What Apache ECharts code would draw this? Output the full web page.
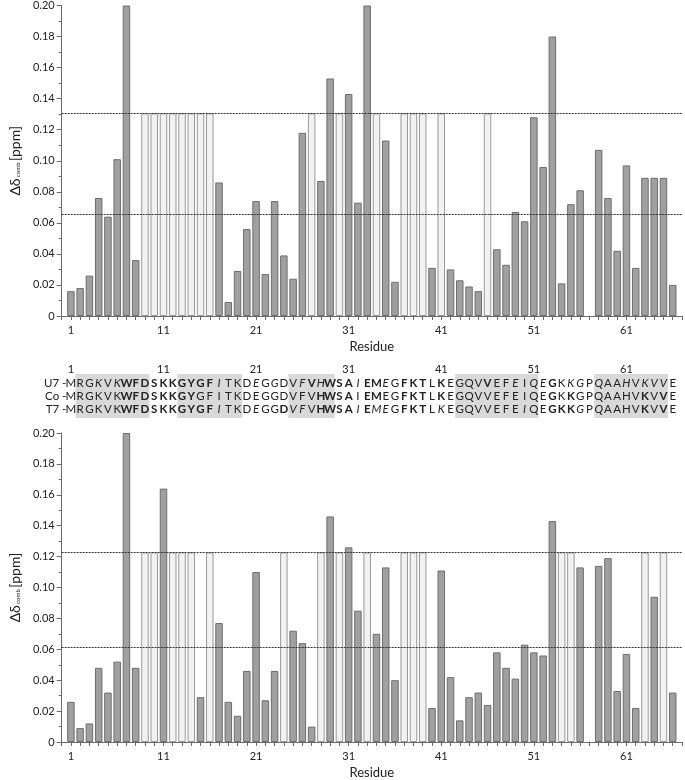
<!DOCTYPE html>
<html><head><meta charset="utf-8">
<script src="https://cdn.jsdelivr.net/npm/echarts@6/dist/echarts.min.js"></script>
<style>html,body{margin:0;padding:0;background:#fff}#c{width:685px;height:780px}</style>
</head><body><div id="c"></div>
<script>
// residue numbers on the category axis (0 and 67 are empty padding positions)
const residueNumbers = [0,1,2,3,4,5,6,7,8,9,10,11,12,13,14,15,16,17,18,19,20,21,22,23,24,25,26,27,28,29,30,31,32,33,34,35,36,37,38,39,40,41,42,43,44,45,46,47,48,49,50,51,52,53,54,55,56,57,58,59,60,61,62,63,64,65,66,67];
const tickLabelResidues = [1,11,21,31,41,51,61];

// top panel (U7): combined chemical shift per residue 1..66 (null = no dark bar)
const topShift = [
  0.016,0.018,0.026,0.076,0.064,0.101,0.200,0.036,null,null,
  null,null,null,null,null,null,0.086,0.009,0.029,0.056,
  0.074,0.027,0.074,0.039,0.024,0.118,null,0.087,0.153,null,
  0.143,0.073,0.200,null,0.113,0.022,null,null,null,0.031,
  null,0.030,0.023,0.019,0.016,null,0.043,0.033,0.067,0.061,
  0.128,0.096,0.180,0.021,0.072,0.081,null,0.107,0.076,0.042,
  0.097,0.031,0.089,0.089,0.089,0.020];
const topUnassigned = [9,10,11,12,13,14,15,16,27,30,34,37,38,39,41,46];
const topCutoffs = [0.1305, 0.0653];

// bottom panel (T7)
const bottomShift = [
  0.026,0.009,0.012,0.048,0.032,0.052,0.200,0.048,null,null,
  0.164,null,null,null,0.029,null,0.077,0.026,0.017,0.046,
  0.110,0.027,0.046,null,0.072,0.064,0.010,null,0.146,null,
  0.126,0.085,null,0.070,0.113,0.040,null,null,null,0.022,
  0.111,0.042,0.014,0.029,0.032,0.024,0.058,0.048,0.041,0.063,
  0.058,0.056,0.143,null,null,0.113,null,0.114,0.119,0.033,
  0.057,0.022,null,0.094,null,0.032];
const bottomUnassigned = [9,10,12,13,14,16,24,28,30,33,37,38,39,54,55,63,65];
const bottomCutoffs = [0.1227, 0.0614];

// sequence alignment
const sequence = 'MRGKVKWFDSKKGYGFITKDEGGDVFVHWSAIEMEGFKTLKEGQVVEFEIQEGKKGPQAAHVKVVE';
const rowNames = ['U7','Co','T7'];
// n = normal, b = bold, i = italic (one code per residue, in blocks of 10)
const rowStyles = [
  'nnninibbbb'+'bbbbbbinnn'+'ininnibibb'+'bibbinbbbn'+'bnnnnbnnin'+'iibniinInn'.toLowerCase()+'iniiin',
  'nnnnnnbbbb'+'bbbbnnnnnn'+'nnnnnnnbbb'+'bnbbnnbbbn'+'bnnnnnnnnn'+'nnbnbnnnnn'+'nnbnbn',
  'nnnnnnbbbb'+'bbbbbbinnn'+'innbiinbbb'+'bibiinbbbn'+'innnnnnnni'+'nnbbbinInn'.toLowerCase()+'nnbnbn'
];
const shadedRanges = [[2,9],[13,19],[25,29],[43,51],[58,65]];

const FONT = 'Lato, "Open Sans", sans-serif';

function pad(arr){ return [null].concat(arr, [null]); }
function lightData(list, cut){ return residueNumbers.map(r => list.indexOf(r) >= 0 ? cut : null); }

const chart = echarts.init(document.getElementById('c'), null, {renderer:'canvas'});

function xAxisCfg(gi){
  return {
    type:'category', gridIndex:gi, data:residueNumbers.map(String), boundaryGap:false,
    axisLine:{lineStyle:{color:'#6b6b6b', width:1}},
    axisTick:{show:true, interval:0, length:4, lineStyle:{color:'#6b6b6b'}},
    axisLabel:{interval:0, margin:9, fontSize:11, color:'#222', fontFamily:FONT,
      formatter:(v)=> tickLabelResidues.indexOf(+v) >= 0 ? v : ''},
    name:'Residue', nameLocation:'middle', nameGap:24,
    nameTextStyle:{fontSize:13, color:'#222', fontFamily:FONT},
    splitLine:{show:false}
  };
}
function yAxisCfg(gi){
  return {
    type:'value', gridIndex:gi, min:0, max:0.2, interval:0.02,
    axisLine:{show:true, lineStyle:{color:'#6b6b6b', width:1}},
    axisTick:{show:true, length:5, lineStyle:{color:'#6b6b6b'}},
    minorTick:{show:true, splitNumber:2, length:3, lineStyle:{color:'#6b6b6b'}},
    axisLabel:{fontSize:11, color:'#222', margin:7, fontFamily:FONT,
      formatter:(v)=> v === 0 ? '0' : v.toFixed(2)},
    splitLine:{show:false},
    name:'{d|Δδ}{s| comb }{d|[ppm]}', nameLocation:'middle', nameGap:28, nameRotate:90,
    nameTextStyle:{fontFamily:FONT, color:'#222',
      rich:{d:{fontSize:14, fontFamily:FONT, color:'#222'}, s:{fontSize:6, fontFamily:FONT, color:'#222', padding:[7,0,0,0]}}}
  };
}
function seriesFor(gi, shift, unassigned, cuts){
  return [
    {type:'bar', xAxisIndex:gi, yAxisIndex:gi, data:pad(shift), barWidth:7.5, barGap:'-100%',
     itemStyle:{color:'#a0a0a0', borderColor:'#6e6e6e', borderWidth:1}, silent:true,
     markLine:{silent:true, symbol:'none', precision:5, label:{show:false},
       lineStyle:{type:[2,1], color:'#333', width:1},
       data: cuts.map(c=>({yAxis:c}))}, z:2},
    {type:'bar', xAxisIndex:gi, yAxisIndex:gi, data:lightData(unassigned, cuts[0]), barWidth:7.5, barGap:'-100%',
     itemStyle:{color:'#f2f2f2', borderColor:'#9a9a9a', borderWidth:1}, silent:true, z:1}
  ];
}

chart.setOption({
  animation:false,
  textStyle:{fontFamily:FONT},
  grid:[{left:51, right:1, top:4, height:312},{left:51, right:1, top:433, height:311}],
  xAxis:[xAxisCfg(0), xAxisCfg(1)],
  yAxis:[yAxisCfg(0), yAxisCfg(1)],
  series: seriesFor(0, topShift, topUnassigned, topCutoffs).concat(seriesFor(1, bottomShift, bottomUnassigned, bottomCutoffs))
});

// alignment block positioned with the axis scale
const g = [];
const xOf = (r) => chart.convertToPixel({xAxisIndex:0}, String(r));
const half = (xOf(2) - xOf(1)) / 2;
const boxTop = 374, boxBottom = 418;
shadedRanges.forEach(([a,b]) => {
  g.push({type:'rect', shape:{x:xOf(a)-half, y:boxTop, width:xOf(b)-xOf(a)+2*half, height:boxBottom-boxTop},
    style:{fill:'#d9d9d9'}, z:0, silent:true});
});
tickLabelResidues.forEach(r => {
  g.push({type:'text', x:xOf(r), y:369, style:{text:String(r), fontSize:11, fontFamily:FONT, fill:'#222', align:'center', verticalAlign:'middle'}, z:2});
});
const rowY = [383, 396, 409];
rowNames.forEach((nm, k) => {
  g.push({type:'text', x:xOf(1)-4.5, y:rowY[k], style:{text:nm+' -', fontSize:11.5, fontFamily:FONT, fill:'#222', align:'right', verticalAlign:'middle'}, z:2});
  const st = rowStyles[k];
  for (let i = 0; i < sequence.length; i++) {
    const s = st[i];
    g.push({type:'text', x:xOf(i+1), y:rowY[k], style:{text:sequence[i], fontSize:11.5, fontFamily:FONT, fill:'#222',
      fontWeight: s==='b' ? 'bold' : 'normal', fontStyle: s==='i' ? 'italic' : 'normal', align:'center', verticalAlign:'middle'}, z:2});
  }
});
chart.setOption({graphic:g});
</script>
</body></html>
